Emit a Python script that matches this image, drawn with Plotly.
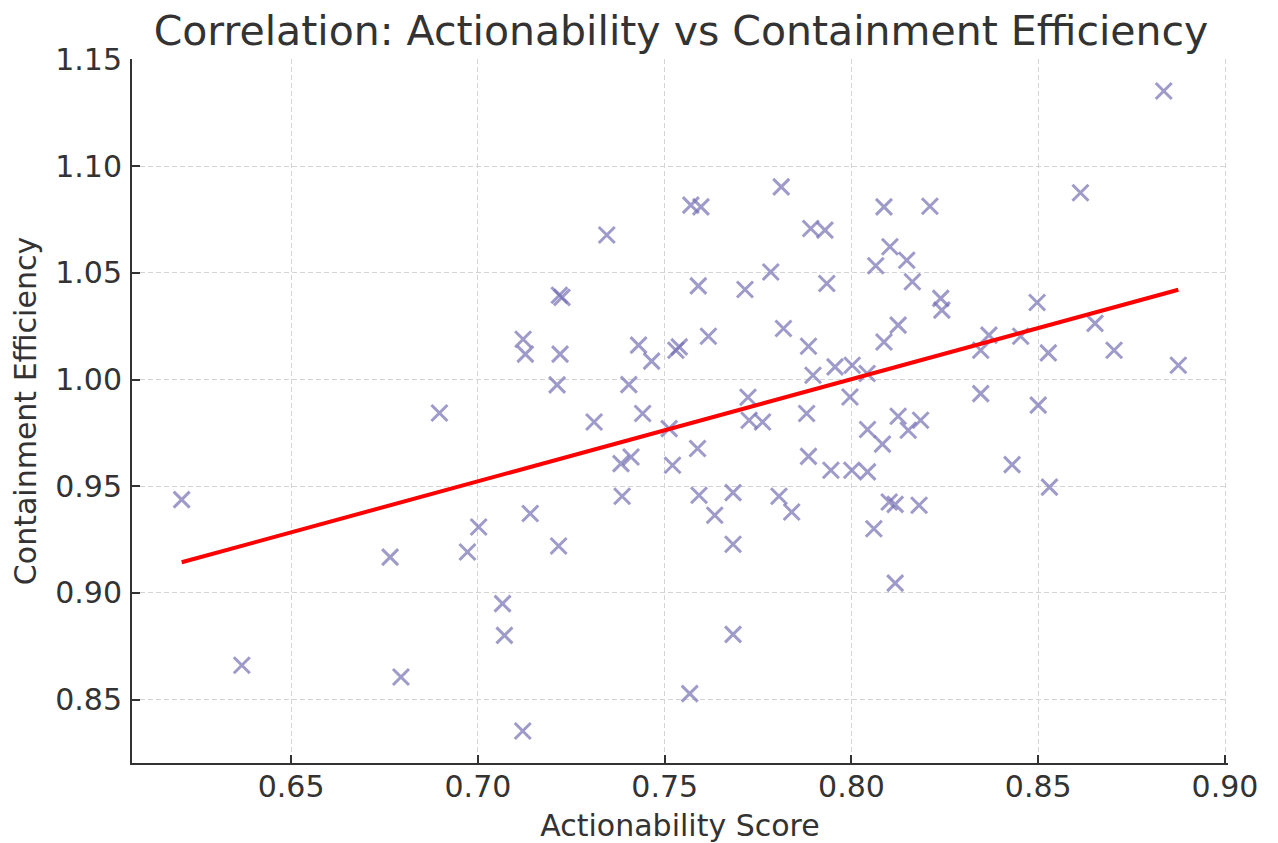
import numpy as np
import plotly.graph_objects as go

# Actionability score (x) and containment efficiency (y)
actionability = [
    0.6207, 0.6368, 0.6765, 0.6794, 0.6897, 0.6972, 0.7002, 0.7066, 0.7071, 0.7121,
    0.7127, 0.7140, 0.7120, 0.7212, 0.7218, 0.7225, 0.7220, 0.7216, 0.7311, 0.7345,
    0.7386, 0.7383, 0.7410, 0.7404, 0.7430, 0.7441, 0.7465, 0.7512, 0.7521, 0.7530,
    0.7539, 0.7588, 0.7592, 0.7570, 0.7597, 0.7590, 0.7617, 0.7634, 0.7683, 0.7683,
    0.7683, 0.7567, 0.7715, 0.7723, 0.7726, 0.7762, 0.7784, 0.7812, 0.7818, 0.7806,
    0.7840, 0.7880, 0.7885, 0.7885, 0.7891, 0.7929, 0.7934, 0.7897, 0.7945, 0.7956,
    0.7996, 0.8002, 0.8001, 0.8043, 0.8043, 0.8042, 0.8065, 0.8060, 0.8083, 0.8087,
    0.8087, 0.8103, 0.8101, 0.8117, 0.8117, 0.8125, 0.8125, 0.8148, 0.8152, 0.8163,
    0.8185, 0.8181, 0.8210, 0.8239, 0.8242, 0.8346, 0.8346, 0.8368, 0.8430, 0.8453,
    0.8497, 0.8500, 0.8527, 0.8530, 0.8613, 0.8652, 0.8703, 0.8836, 0.8875,
]
containment = [
    0.9437, 0.8661, 0.9168, 0.8606, 0.9843, 0.9192, 0.9309, 0.8950, 0.8801, 1.0189,
    1.0119, 0.9372, 0.8353, 0.9975, 1.0395, 1.0385, 1.0119, 0.9220, 0.9801, 1.0677,
    0.9453, 0.9606, 0.9637, 0.9976, 1.0161, 0.9841, 1.0086, 0.9770, 0.9598, 1.0137,
    1.0153, 0.9677, 0.9458, 1.0817, 1.0809, 1.0439, 1.0203, 0.9364, 0.9470, 0.9228,
    0.8806, 0.8528, 1.0422, 0.9917, 0.9809, 0.9801, 1.0504, 1.0903, 1.0239, 0.9453,
    0.9379, 0.9841, 0.9640, 1.0156, 1.0708, 1.0700, 1.0450, 1.0020, 0.9575, 1.0059,
    0.9918, 1.0067, 0.9575, 0.9567, 0.9766, 1.0028, 1.0533, 0.9301, 0.9697, 1.0809,
    1.0176, 1.0622, 0.9426, 0.9415, 0.9046, 0.9828, 1.0255, 1.0559, 0.9762, 1.0458,
    0.9809, 0.9411, 1.0812, 1.0380, 1.0325, 0.9934, 1.0137, 1.0208, 0.9601, 1.0203,
    1.0361, 0.9880, 1.0125, 0.9496, 1.0875, 1.0263, 1.0137, 1.1352, 1.0067,
]

x_ticks = [0.65, 0.70, 0.75, 0.80, 0.85, 0.90]
y_ticks = [0.85, 0.90, 0.95, 1.00, 1.05, 1.10, 1.15]

xa = np.array(actionability)
ya = np.array(containment)
slope, intercept = np.polyfit(xa, ya, 1)
fit_x = np.sort(xa)
fit_y = slope * fit_x + intercept

marker_color = "rgba(117,112,179,0.7)"

fig = go.Figure()
fig.add_trace(go.Scatter(
    x=actionability, y=containment, mode="markers",
    marker=dict(symbol="x-thin", size=16, color=marker_color,
                line=dict(width=3, color=marker_color)),
    showlegend=False,
))
fig.add_trace(go.Scatter(
    x=fit_x, y=fit_y, mode="lines",
    line=dict(color="red", width=4),
    showlegend=False,
))

font_family = "DejaVu Sans"
txt = "#333333"
grid = "#d4d4d4"
W, H = 1270, 835
fig.update_layout(
    width=W, height=H,
    margin=dict(l=124, r=50, t=51, b=80, autoexpand=False),
    paper_bgcolor="white", plot_bgcolor="white",
    font=dict(family=font_family, color=txt, size=30),
    title=dict(text="Correlation: Actionability vs Containment Efficiency",
               x=673 / W, xanchor="center",
               y=1 - 23 / H, yanchor="middle",
               font=dict(size=41, color=txt, family=font_family)),
)
fig.update_xaxes(
    range=[0.6074, 0.9008], tickvals=x_ticks, tickformat=".2f",
    showline=True, linecolor=txt, linewidth=2, mirror=False,
    ticks="inside", ticklen=8, tickwidth=1.5, tickcolor=txt,
    showgrid=True, gridcolor=grid, griddash="5px,3px", gridwidth=1,
    zeroline=False, ticklabelstandoff=-4, automargin=False,
    title=dict(text="Actionability Score", standoff=18, font=dict(size=30)),
)
fig.update_yaxes(
    range=[0.8203, 1.1502], tickvals=y_ticks, tickformat=".2f",
    showline=True, linecolor=txt, linewidth=2, mirror=False,
    ticks="inside", ticklen=8, tickwidth=1.5, tickcolor=txt,
    showgrid=True, gridcolor=grid, griddash="5px,3px", gridwidth=1,
    zeroline=False, ticklabelstandoff=2, automargin=False,
    title=dict(text="Containment Efficiency", standoff=12, font=dict(size=30)),
)

fig.write_html("out.html")
